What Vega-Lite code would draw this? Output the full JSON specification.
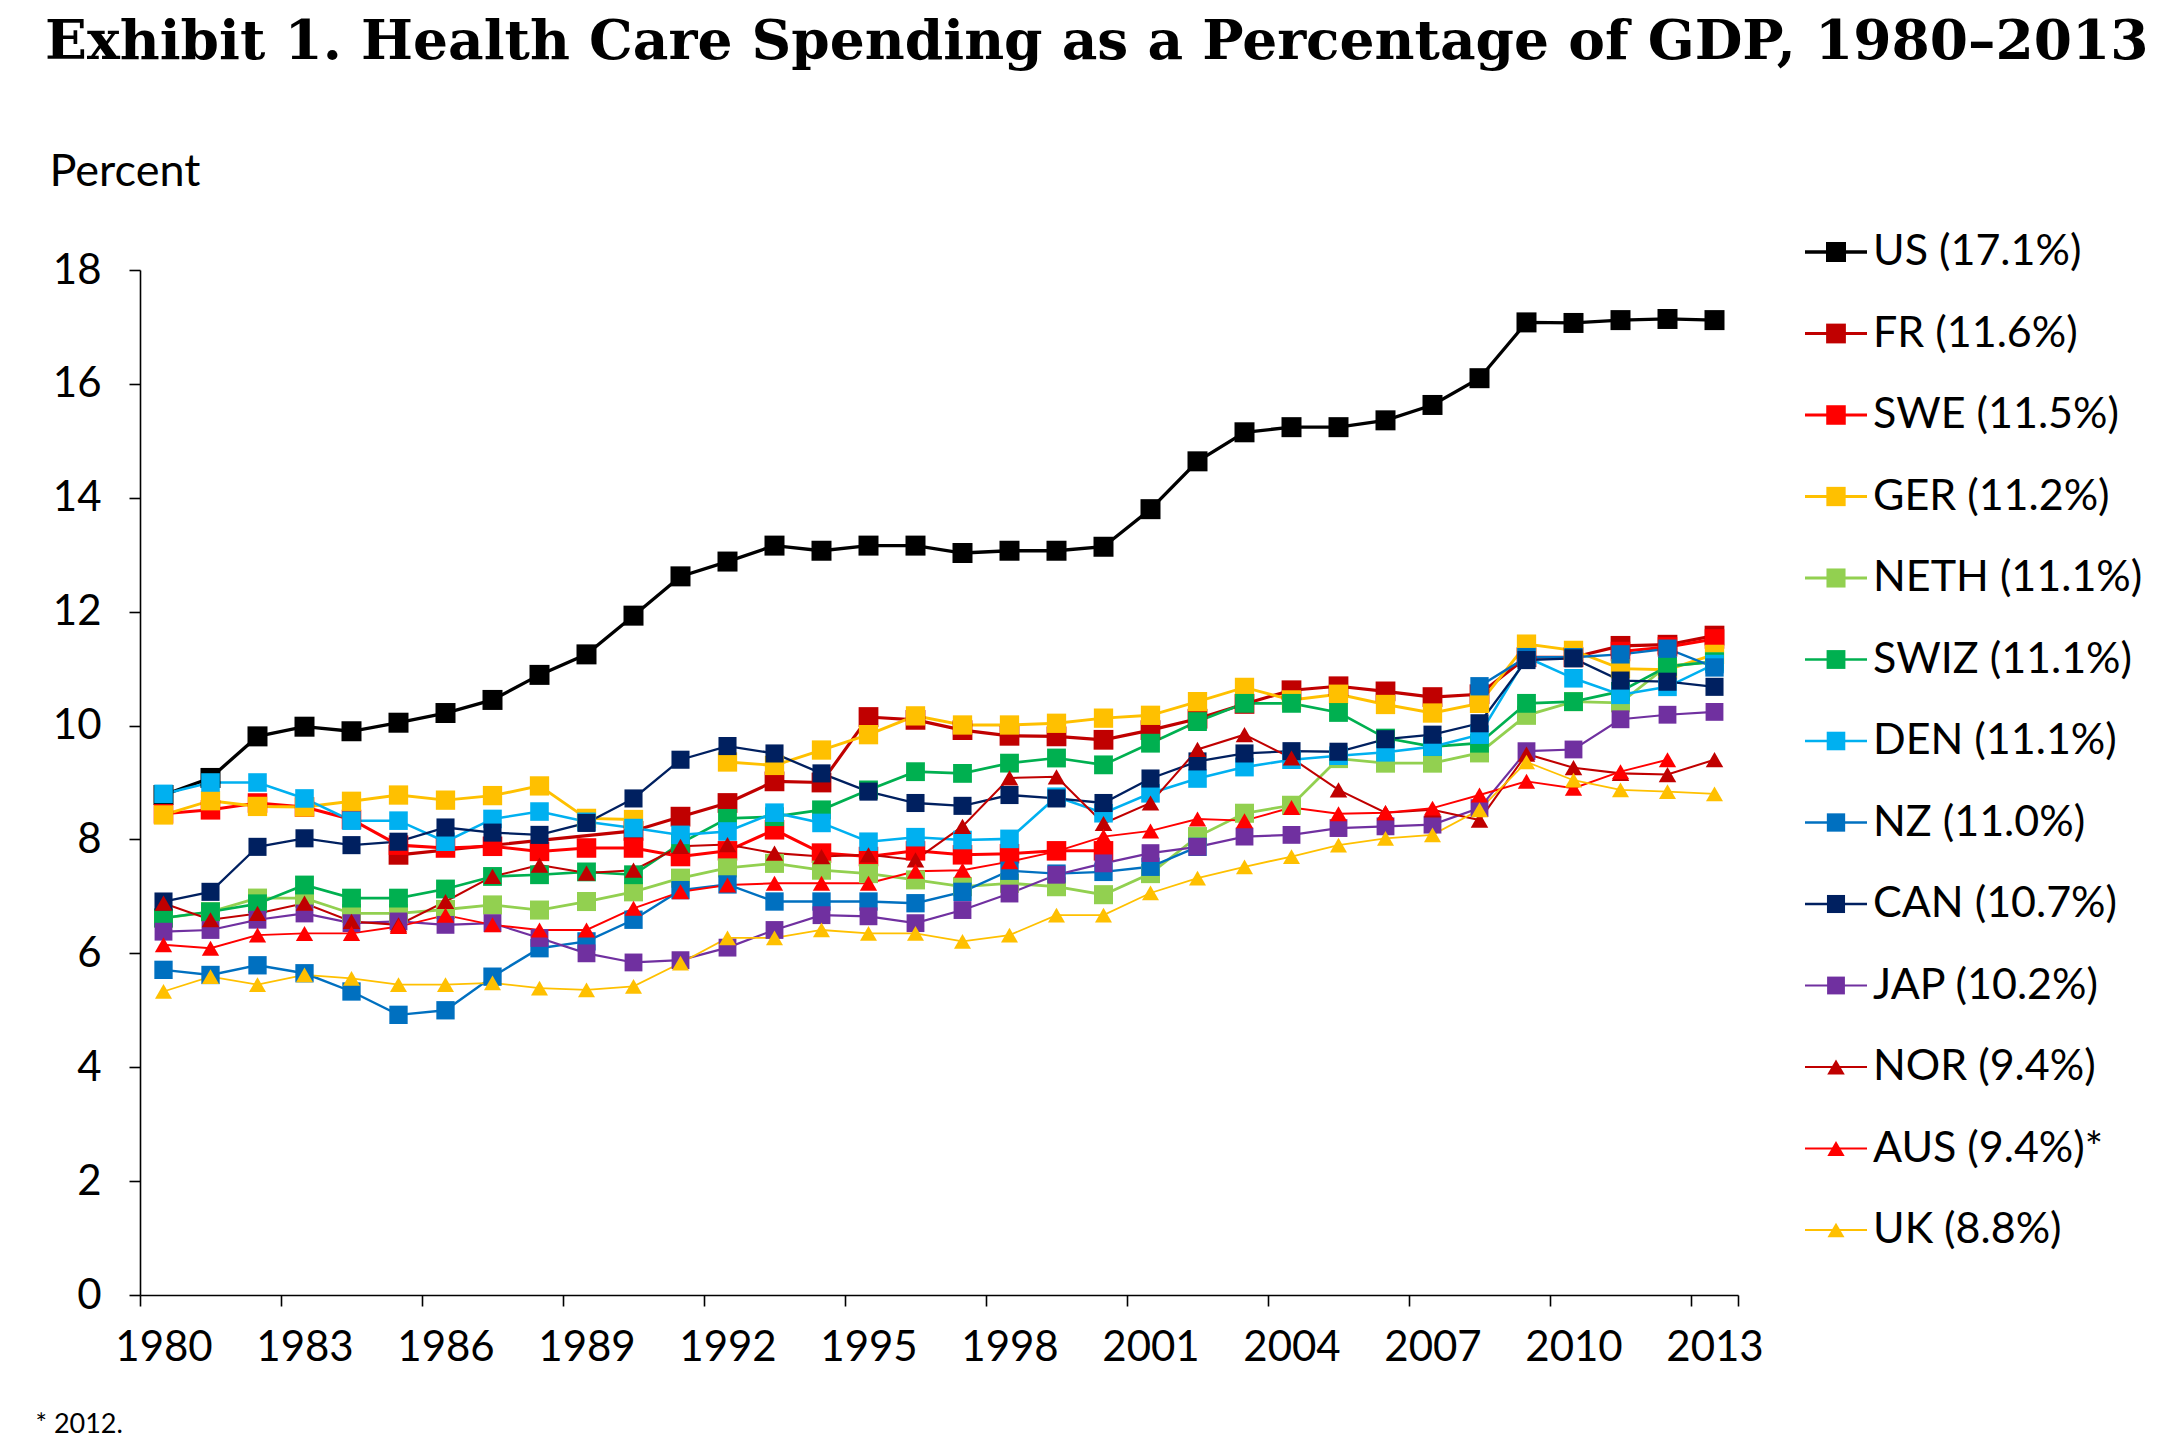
{
  "$schema": "https://vega.github.io/schema/vega-lite/v6.json",
  "description": "Health Care Spending as a Percentage of GDP, 1980-2013",
  "autosize": {"type": "none"},
  "width": 1598,
  "height": 1025,
  "padding": {"left": 140, "top": 270, "right": 444, "bottom": 154},
  "background": "white",
  "title": {
    "text": "Exhibit 1. Health Care Spending as a Percentage of GDP, 1980–2013",
    "font": "DejaVu Serif",
    "fontWeight": "bold",
    "fontSize": 55,
    "color": "#000000",
    "anchor": "start",
    "frame": "group",
    "baseline": "alphabetic",
    "offset": 35,
    "dx": -95
  },
  "config": {
    "view": {"stroke": null},
    "legend": {"disable": true},
    "axis": {
      "labelFont": "Lato",
      "labelFontSize": 42,
      "labelColor": "#000000",
      "titleFont": "Lato",
      "titleColor": "#000000",
      "domainColor": "#000000",
      "domainWidth": 1.6,
      "tickColor": "#000000",
      "tickWidth": 1.6,
      "grid": false
    }
  },
  "data": {
    "values": [
      {"country": "US (17.1%)", "year": 1980, "pct": 8.78},
      {"country": "US (17.1%)", "year": 1981, "pct": 9.08},
      {"country": "US (17.1%)", "year": 1982, "pct": 9.81},
      {"country": "US (17.1%)", "year": 1983, "pct": 9.98},
      {"country": "US (17.1%)", "year": 1984, "pct": 9.9},
      {"country": "US (17.1%)", "year": 1985, "pct": 10.05},
      {"country": "US (17.1%)", "year": 1986, "pct": 10.22},
      {"country": "US (17.1%)", "year": 1987, "pct": 10.45},
      {"country": "US (17.1%)", "year": 1988, "pct": 10.89},
      {"country": "US (17.1%)", "year": 1989, "pct": 11.25},
      {"country": "US (17.1%)", "year": 1990, "pct": 11.93},
      {"country": "US (17.1%)", "year": 1991, "pct": 12.62},
      {"country": "US (17.1%)", "year": 1992, "pct": 12.88},
      {"country": "US (17.1%)", "year": 1993, "pct": 13.16},
      {"country": "US (17.1%)", "year": 1994, "pct": 13.07},
      {"country": "US (17.1%)", "year": 1995, "pct": 13.16},
      {"country": "US (17.1%)", "year": 1996, "pct": 13.16},
      {"country": "US (17.1%)", "year": 1997, "pct": 13.03},
      {"country": "US (17.1%)", "year": 1998, "pct": 13.07},
      {"country": "US (17.1%)", "year": 1999, "pct": 13.07},
      {"country": "US (17.1%)", "year": 2000, "pct": 13.14},
      {"country": "US (17.1%)", "year": 2001, "pct": 13.8},
      {"country": "US (17.1%)", "year": 2002, "pct": 14.64},
      {"country": "US (17.1%)", "year": 2003, "pct": 15.15},
      {"country": "US (17.1%)", "year": 2004, "pct": 15.24},
      {"country": "US (17.1%)", "year": 2005, "pct": 15.24},
      {"country": "US (17.1%)", "year": 2006, "pct": 15.36},
      {"country": "US (17.1%)", "year": 2007, "pct": 15.63},
      {"country": "US (17.1%)", "year": 2008, "pct": 16.1},
      {"country": "US (17.1%)", "year": 2009, "pct": 17.08},
      {"country": "US (17.1%)", "year": 2010, "pct": 17.07},
      {"country": "US (17.1%)", "year": 2011, "pct": 17.12},
      {"country": "US (17.1%)", "year": 2012, "pct": 17.14},
      {"country": "US (17.1%)", "year": 2013, "pct": 17.12},

      {"country": "FR (11.6%)", "year": 1985, "pct": 7.73},
      {"country": "FR (11.6%)", "year": 1990, "pct": 8.15},
      {"country": "FR (11.6%)", "year": 1991, "pct": 8.4},
      {"country": "FR (11.6%)", "year": 1992, "pct": 8.64},
      {"country": "FR (11.6%)", "year": 1993, "pct": 9.02},
      {"country": "FR (11.6%)", "year": 1994, "pct": 9.0},
      {"country": "FR (11.6%)", "year": 1995, "pct": 10.15},
      {"country": "FR (11.6%)", "year": 1996, "pct": 10.1},
      {"country": "FR (11.6%)", "year": 1997, "pct": 9.92},
      {"country": "FR (11.6%)", "year": 1998, "pct": 9.82},
      {"country": "FR (11.6%)", "year": 1999, "pct": 9.81},
      {"country": "FR (11.6%)", "year": 2000, "pct": 9.75},
      {"country": "FR (11.6%)", "year": 2001, "pct": 9.92},
      {"country": "FR (11.6%)", "year": 2002, "pct": 10.12},
      {"country": "FR (11.6%)", "year": 2003, "pct": 10.38},
      {"country": "FR (11.6%)", "year": 2004, "pct": 10.62},
      {"country": "FR (11.6%)", "year": 2005, "pct": 10.69},
      {"country": "FR (11.6%)", "year": 2006, "pct": 10.6},
      {"country": "FR (11.6%)", "year": 2007, "pct": 10.5},
      {"country": "FR (11.6%)", "year": 2008, "pct": 10.55},
      {"country": "FR (11.6%)", "year": 2009, "pct": 11.2},
      {"country": "FR (11.6%)", "year": 2010, "pct": 11.2},
      {"country": "FR (11.6%)", "year": 2011, "pct": 11.4},
      {"country": "FR (11.6%)", "year": 2012, "pct": 11.42},
      {"country": "FR (11.6%)", "year": 2013, "pct": 11.58},

      {"country": "SWE (11.5%)", "year": 1980, "pct": 8.45},
      {"country": "SWE (11.5%)", "year": 1981, "pct": 8.52},
      {"country": "SWE (11.5%)", "year": 1982, "pct": 8.64},
      {"country": "SWE (11.5%)", "year": 1983, "pct": 8.57},
      {"country": "SWE (11.5%)", "year": 1984, "pct": 8.35},
      {"country": "SWE (11.5%)", "year": 1985, "pct": 7.9},
      {"country": "SWE (11.5%)", "year": 1986, "pct": 7.85},
      {"country": "SWE (11.5%)", "year": 1987, "pct": 7.88},
      {"country": "SWE (11.5%)", "year": 1988, "pct": 7.79},
      {"country": "SWE (11.5%)", "year": 1989, "pct": 7.85},
      {"country": "SWE (11.5%)", "year": 1990, "pct": 7.85},
      {"country": "SWE (11.5%)", "year": 1991, "pct": 7.7},
      {"country": "SWE (11.5%)", "year": 1992, "pct": 7.8},
      {"country": "SWE (11.5%)", "year": 1993, "pct": 8.17},
      {"country": "SWE (11.5%)", "year": 1994, "pct": 7.76},
      {"country": "SWE (11.5%)", "year": 1995, "pct": 7.7},
      {"country": "SWE (11.5%)", "year": 1996, "pct": 7.8},
      {"country": "SWE (11.5%)", "year": 1997, "pct": 7.73},
      {"country": "SWE (11.5%)", "year": 1998, "pct": 7.75},
      {"country": "SWE (11.5%)", "year": 1999, "pct": 7.8},
      {"country": "SWE (11.5%)", "year": 2000, "pct": 7.8},
      {"country": "SWE (11.5%)", "year": 2001, "pct": null},
      {"country": "SWE (11.5%)", "year": 2011, "pct": 11.3},
      {"country": "SWE (11.5%)", "year": 2012, "pct": 11.38},
      {"country": "SWE (11.5%)", "year": 2013, "pct": 11.52},

      {"country": "GER (11.2%)", "year": 1980, "pct": 8.43},
      {"country": "GER (11.2%)", "year": 1981, "pct": 8.68},
      {"country": "GER (11.2%)", "year": 1982, "pct": 8.58},
      {"country": "GER (11.2%)", "year": 1983, "pct": 8.57},
      {"country": "GER (11.2%)", "year": 1984, "pct": 8.67},
      {"country": "GER (11.2%)", "year": 1985, "pct": 8.78},
      {"country": "GER (11.2%)", "year": 1986, "pct": 8.69},
      {"country": "GER (11.2%)", "year": 1987, "pct": 8.77},
      {"country": "GER (11.2%)", "year": 1988, "pct": 8.94},
      {"country": "GER (11.2%)", "year": 1989, "pct": 8.37},
      {"country": "GER (11.2%)", "year": 1990, "pct": 8.35},
      {"country": "GER (11.2%)", "year": 1991, "pct": null},
      {"country": "GER (11.2%)", "year": 1992, "pct": 9.36},
      {"country": "GER (11.2%)", "year": 1993, "pct": 9.3},
      {"country": "GER (11.2%)", "year": 1994, "pct": 9.57},
      {"country": "GER (11.2%)", "year": 1995, "pct": 9.84},
      {"country": "GER (11.2%)", "year": 1996, "pct": 10.17},
      {"country": "GER (11.2%)", "year": 1997, "pct": 10.01},
      {"country": "GER (11.2%)", "year": 1998, "pct": 10.01},
      {"country": "GER (11.2%)", "year": 1999, "pct": 10.04},
      {"country": "GER (11.2%)", "year": 2000, "pct": 10.13},
      {"country": "GER (11.2%)", "year": 2001, "pct": 10.18},
      {"country": "GER (11.2%)", "year": 2002, "pct": 10.42},
      {"country": "GER (11.2%)", "year": 2003, "pct": 10.67},
      {"country": "GER (11.2%)", "year": 2004, "pct": 10.45},
      {"country": "GER (11.2%)", "year": 2005, "pct": 10.55},
      {"country": "GER (11.2%)", "year": 2006, "pct": 10.37},
      {"country": "GER (11.2%)", "year": 2007, "pct": 10.22},
      {"country": "GER (11.2%)", "year": 2008, "pct": 10.39},
      {"country": "GER (11.2%)", "year": 2009, "pct": 11.43},
      {"country": "GER (11.2%)", "year": 2010, "pct": 11.32},
      {"country": "GER (11.2%)", "year": 2011, "pct": 11.0},
      {"country": "GER (11.2%)", "year": 2012, "pct": 10.98},
      {"country": "GER (11.2%)", "year": 2013, "pct": 11.25},

      {"country": "NETH (11.1%)", "year": 1980, "pct": 6.62},
      {"country": "NETH (11.1%)", "year": 1981, "pct": 6.73},
      {"country": "NETH (11.1%)", "year": 1982, "pct": 6.97},
      {"country": "NETH (11.1%)", "year": 1983, "pct": 6.97},
      {"country": "NETH (11.1%)", "year": 1984, "pct": 6.7},
      {"country": "NETH (11.1%)", "year": 1985, "pct": 6.7},
      {"country": "NETH (11.1%)", "year": 1986, "pct": 6.77},
      {"country": "NETH (11.1%)", "year": 1987, "pct": 6.85},
      {"country": "NETH (11.1%)", "year": 1988, "pct": 6.76},
      {"country": "NETH (11.1%)", "year": 1989, "pct": 6.91},
      {"country": "NETH (11.1%)", "year": 1990, "pct": 7.08},
      {"country": "NETH (11.1%)", "year": 1991, "pct": 7.32},
      {"country": "NETH (11.1%)", "year": 1992, "pct": 7.5},
      {"country": "NETH (11.1%)", "year": 1993, "pct": 7.58},
      {"country": "NETH (11.1%)", "year": 1994, "pct": 7.46},
      {"country": "NETH (11.1%)", "year": 1995, "pct": 7.4},
      {"country": "NETH (11.1%)", "year": 1996, "pct": 7.29},
      {"country": "NETH (11.1%)", "year": 1997, "pct": 7.17},
      {"country": "NETH (11.1%)", "year": 1998, "pct": 7.23},
      {"country": "NETH (11.1%)", "year": 1999, "pct": 7.17},
      {"country": "NETH (11.1%)", "year": 2000, "pct": 7.03},
      {"country": "NETH (11.1%)", "year": 2001, "pct": 7.4},
      {"country": "NETH (11.1%)", "year": 2002, "pct": 8.05},
      {"country": "NETH (11.1%)", "year": 2003, "pct": 8.46},
      {"country": "NETH (11.1%)", "year": 2004, "pct": 8.6},
      {"country": "NETH (11.1%)", "year": 2005, "pct": 9.42},
      {"country": "NETH (11.1%)", "year": 2006, "pct": 9.34},
      {"country": "NETH (11.1%)", "year": 2007, "pct": 9.34},
      {"country": "NETH (11.1%)", "year": 2008, "pct": 9.52},
      {"country": "NETH (11.1%)", "year": 2009, "pct": 10.18},
      {"country": "NETH (11.1%)", "year": 2010, "pct": 10.42},
      {"country": "NETH (11.1%)", "year": 2011, "pct": 10.4},
      {"country": "NETH (11.1%)", "year": 2012, "pct": 11.05},
      {"country": "NETH (11.1%)", "year": 2013, "pct": 11.12},

      {"country": "SWIZ (11.1%)", "year": 1980, "pct": 6.62},
      {"country": "SWIZ (11.1%)", "year": 1981, "pct": 6.73},
      {"country": "SWIZ (11.1%)", "year": 1982, "pct": 6.87},
      {"country": "SWIZ (11.1%)", "year": 1983, "pct": 7.2},
      {"country": "SWIZ (11.1%)", "year": 1984, "pct": 6.97},
      {"country": "SWIZ (11.1%)", "year": 1985, "pct": 6.97},
      {"country": "SWIZ (11.1%)", "year": 1986, "pct": 7.13},
      {"country": "SWIZ (11.1%)", "year": 1987, "pct": 7.35},
      {"country": "SWIZ (11.1%)", "year": 1988, "pct": 7.38},
      {"country": "SWIZ (11.1%)", "year": 1989, "pct": 7.43},
      {"country": "SWIZ (11.1%)", "year": 1990, "pct": 7.38},
      {"country": "SWIZ (11.1%)", "year": 1991, "pct": 7.93},
      {"country": "SWIZ (11.1%)", "year": 1992, "pct": 8.37},
      {"country": "SWIZ (11.1%)", "year": 1993, "pct": 8.4},
      {"country": "SWIZ (11.1%)", "year": 1994, "pct": 8.52},
      {"country": "SWIZ (11.1%)", "year": 1995, "pct": 8.87},
      {"country": "SWIZ (11.1%)", "year": 1996, "pct": 9.19},
      {"country": "SWIZ (11.1%)", "year": 1997, "pct": 9.16},
      {"country": "SWIZ (11.1%)", "year": 1998, "pct": 9.34},
      {"country": "SWIZ (11.1%)", "year": 1999, "pct": 9.43},
      {"country": "SWIZ (11.1%)", "year": 2000, "pct": 9.31},
      {"country": "SWIZ (11.1%)", "year": 2001, "pct": 9.69},
      {"country": "SWIZ (11.1%)", "year": 2002, "pct": 10.07},
      {"country": "SWIZ (11.1%)", "year": 2003, "pct": 10.39},
      {"country": "SWIZ (11.1%)", "year": 2004, "pct": 10.39},
      {"country": "SWIZ (11.1%)", "year": 2005, "pct": 10.23},
      {"country": "SWIZ (11.1%)", "year": 2006, "pct": 9.78},
      {"country": "SWIZ (11.1%)", "year": 2007, "pct": 9.63},
      {"country": "SWIZ (11.1%)", "year": 2008, "pct": 9.69},
      {"country": "SWIZ (11.1%)", "year": 2009, "pct": 10.39},
      {"country": "SWIZ (11.1%)", "year": 2010, "pct": 10.42},
      {"country": "SWIZ (11.1%)", "year": 2011, "pct": 10.6},
      {"country": "SWIZ (11.1%)", "year": 2012, "pct": 11.04},
      {"country": "SWIZ (11.1%)", "year": 2013, "pct": 11.12},

      {"country": "DEN (11.1%)", "year": 1980, "pct": 8.8},
      {"country": "DEN (11.1%)", "year": 1981, "pct": 9.0},
      {"country": "DEN (11.1%)", "year": 1982, "pct": 9.0},
      {"country": "DEN (11.1%)", "year": 1983, "pct": 8.72},
      {"country": "DEN (11.1%)", "year": 1984, "pct": 8.33},
      {"country": "DEN (11.1%)", "year": 1985, "pct": 8.33},
      {"country": "DEN (11.1%)", "year": 1986, "pct": 7.96},
      {"country": "DEN (11.1%)", "year": 1987, "pct": 8.36},
      {"country": "DEN (11.1%)", "year": 1988, "pct": 8.49},
      {"country": "DEN (11.1%)", "year": 1989, "pct": 8.31},
      {"country": "DEN (11.1%)", "year": 1990, "pct": 8.2},
      {"country": "DEN (11.1%)", "year": 1991, "pct": 8.08},
      {"country": "DEN (11.1%)", "year": 1992, "pct": 8.14},
      {"country": "DEN (11.1%)", "year": 1993, "pct": 8.47},
      {"country": "DEN (11.1%)", "year": 1994, "pct": 8.29},
      {"country": "DEN (11.1%)", "year": 1995, "pct": 7.96},
      {"country": "DEN (11.1%)", "year": 1996, "pct": 8.04},
      {"country": "DEN (11.1%)", "year": 1997, "pct": 7.99},
      {"country": "DEN (11.1%)", "year": 1998, "pct": 8.01},
      {"country": "DEN (11.1%)", "year": 1999, "pct": 8.75},
      {"country": "DEN (11.1%)", "year": 2000, "pct": 8.46},
      {"country": "DEN (11.1%)", "year": 2001, "pct": 8.81},
      {"country": "DEN (11.1%)", "year": 2002, "pct": 9.07},
      {"country": "DEN (11.1%)", "year": 2003, "pct": 9.27},
      {"country": "DEN (11.1%)", "year": 2004, "pct": 9.4},
      {"country": "DEN (11.1%)", "year": 2005, "pct": 9.47},
      {"country": "DEN (11.1%)", "year": 2006, "pct": 9.53},
      {"country": "DEN (11.1%)", "year": 2007, "pct": 9.63},
      {"country": "DEN (11.1%)", "year": 2008, "pct": 9.84},
      {"country": "DEN (11.1%)", "year": 2009, "pct": 11.2},
      {"country": "DEN (11.1%)", "year": 2010, "pct": 10.83},
      {"country": "DEN (11.1%)", "year": 2011, "pct": 10.54},
      {"country": "DEN (11.1%)", "year": 2012, "pct": 10.68},
      {"country": "DEN (11.1%)", "year": 2013, "pct": 11.08},

      {"country": "NZ (11.0%)", "year": 1980, "pct": 5.71},
      {"country": "NZ (11.0%)", "year": 1981, "pct": 5.62},
      {"country": "NZ (11.0%)", "year": 1982, "pct": 5.79},
      {"country": "NZ (11.0%)", "year": 1983, "pct": 5.65},
      {"country": "NZ (11.0%)", "year": 1984, "pct": 5.33},
      {"country": "NZ (11.0%)", "year": 1985, "pct": 4.92},
      {"country": "NZ (11.0%)", "year": 1986, "pct": 5.0},
      {"country": "NZ (11.0%)", "year": 1987, "pct": 5.59},
      {"country": "NZ (11.0%)", "year": 1988, "pct": 6.09},
      {"country": "NZ (11.0%)", "year": 1989, "pct": 6.21},
      {"country": "NZ (11.0%)", "year": 1990, "pct": 6.59},
      {"country": "NZ (11.0%)", "year": 1991, "pct": 7.11},
      {"country": "NZ (11.0%)", "year": 1992, "pct": 7.21},
      {"country": "NZ (11.0%)", "year": 1993, "pct": 6.91},
      {"country": "NZ (11.0%)", "year": 1994, "pct": 6.91},
      {"country": "NZ (11.0%)", "year": 1995, "pct": 6.91},
      {"country": "NZ (11.0%)", "year": 1996, "pct": 6.88},
      {"country": "NZ (11.0%)", "year": 1997, "pct": 7.08},
      {"country": "NZ (11.0%)", "year": 1998, "pct": 7.45},
      {"country": "NZ (11.0%)", "year": 1999, "pct": 7.4},
      {"country": "NZ (11.0%)", "year": 2000, "pct": 7.43},
      {"country": "NZ (11.0%)", "year": 2001, "pct": 7.52},
      {"country": "NZ (11.0%)", "year": 2002, "pct": 7.87},
      {"country": "NZ (11.0%)", "year": 2003, "pct": null},
      {"country": "NZ (11.0%)", "year": 2008, "pct": 10.69},
      {"country": "NZ (11.0%)", "year": 2009, "pct": 11.2},
      {"country": "NZ (11.0%)", "year": 2010, "pct": 11.2},
      {"country": "NZ (11.0%)", "year": 2011, "pct": 11.25},
      {"country": "NZ (11.0%)", "year": 2012, "pct": 11.35},
      {"country": "NZ (11.0%)", "year": 2013, "pct": 11.02},

      {"country": "CAN (10.7%)", "year": 1980, "pct": 6.91},
      {"country": "CAN (10.7%)", "year": 1981, "pct": 7.08},
      {"country": "CAN (10.7%)", "year": 1982, "pct": 7.87},
      {"country": "CAN (10.7%)", "year": 1983, "pct": 8.02},
      {"country": "CAN (10.7%)", "year": 1984, "pct": 7.9},
      {"country": "CAN (10.7%)", "year": 1985, "pct": 7.96},
      {"country": "CAN (10.7%)", "year": 1986, "pct": 8.21},
      {"country": "CAN (10.7%)", "year": 1987, "pct": 8.12},
      {"country": "CAN (10.7%)", "year": 1988, "pct": 8.08},
      {"country": "CAN (10.7%)", "year": 1989, "pct": 8.29},
      {"country": "CAN (10.7%)", "year": 1990, "pct": 8.72},
      {"country": "CAN (10.7%)", "year": 1991, "pct": 9.4},
      {"country": "CAN (10.7%)", "year": 1992, "pct": 9.64},
      {"country": "CAN (10.7%)", "year": 1993, "pct": 9.51},
      {"country": "CAN (10.7%)", "year": 1994, "pct": 9.16},
      {"country": "CAN (10.7%)", "year": 1995, "pct": 8.84},
      {"country": "CAN (10.7%)", "year": 1996, "pct": 8.64},
      {"country": "CAN (10.7%)", "year": 1997, "pct": 8.59},
      {"country": "CAN (10.7%)", "year": 1998, "pct": 8.78},
      {"country": "CAN (10.7%)", "year": 1999, "pct": 8.72},
      {"country": "CAN (10.7%)", "year": 2000, "pct": 8.64},
      {"country": "CAN (10.7%)", "year": 2001, "pct": 9.07},
      {"country": "CAN (10.7%)", "year": 2002, "pct": 9.37},
      {"country": "CAN (10.7%)", "year": 2003, "pct": 9.51},
      {"country": "CAN (10.7%)", "year": 2004, "pct": 9.55},
      {"country": "CAN (10.7%)", "year": 2005, "pct": 9.54},
      {"country": "CAN (10.7%)", "year": 2006, "pct": 9.76},
      {"country": "CAN (10.7%)", "year": 2007, "pct": 9.84},
      {"country": "CAN (10.7%)", "year": 2008, "pct": 10.04},
      {"country": "CAN (10.7%)", "year": 2009, "pct": 11.15},
      {"country": "CAN (10.7%)", "year": 2010, "pct": 11.18},
      {"country": "CAN (10.7%)", "year": 2011, "pct": 10.79},
      {"country": "CAN (10.7%)", "year": 2012, "pct": 10.77},
      {"country": "CAN (10.7%)", "year": 2013, "pct": 10.68},

      {"country": "JAP (10.2%)", "year": 1980, "pct": 6.38},
      {"country": "JAP (10.2%)", "year": 1981, "pct": 6.41},
      {"country": "JAP (10.2%)", "year": 1982, "pct": 6.59},
      {"country": "JAP (10.2%)", "year": 1983, "pct": 6.7},
      {"country": "JAP (10.2%)", "year": 1984, "pct": 6.53},
      {"country": "JAP (10.2%)", "year": 1985, "pct": 6.56},
      {"country": "JAP (10.2%)", "year": 1986, "pct": 6.5},
      {"country": "JAP (10.2%)", "year": 1987, "pct": 6.53},
      {"country": "JAP (10.2%)", "year": 1988, "pct": 6.27},
      {"country": "JAP (10.2%)", "year": 1989, "pct": 6.0},
      {"country": "JAP (10.2%)", "year": 1990, "pct": 5.84},
      {"country": "JAP (10.2%)", "year": 1991, "pct": 5.88},
      {"country": "JAP (10.2%)", "year": 1992, "pct": 6.1},
      {"country": "JAP (10.2%)", "year": 1993, "pct": 6.41},
      {"country": "JAP (10.2%)", "year": 1994, "pct": 6.67},
      {"country": "JAP (10.2%)", "year": 1995, "pct": 6.65},
      {"country": "JAP (10.2%)", "year": 1996, "pct": 6.53},
      {"country": "JAP (10.2%)", "year": 1997, "pct": 6.76},
      {"country": "JAP (10.2%)", "year": 1998, "pct": 7.05},
      {"country": "JAP (10.2%)", "year": 1999, "pct": 7.38},
      {"country": "JAP (10.2%)", "year": 2000, "pct": 7.58},
      {"country": "JAP (10.2%)", "year": 2001, "pct": 7.76},
      {"country": "JAP (10.2%)", "year": 2002, "pct": 7.87},
      {"country": "JAP (10.2%)", "year": 2003, "pct": 8.05},
      {"country": "JAP (10.2%)", "year": 2004, "pct": 8.08},
      {"country": "JAP (10.2%)", "year": 2005, "pct": 8.2},
      {"country": "JAP (10.2%)", "year": 2006, "pct": 8.23},
      {"country": "JAP (10.2%)", "year": 2007, "pct": 8.26},
      {"country": "JAP (10.2%)", "year": 2008, "pct": 8.55},
      {"country": "JAP (10.2%)", "year": 2009, "pct": 9.55},
      {"country": "JAP (10.2%)", "year": 2010, "pct": 9.58},
      {"country": "JAP (10.2%)", "year": 2011, "pct": 10.11},
      {"country": "JAP (10.2%)", "year": 2012, "pct": 10.19},
      {"country": "JAP (10.2%)", "year": 2013, "pct": 10.24},

      {"country": "NOR (9.4%)", "year": 1980, "pct": 6.88},
      {"country": "NOR (9.4%)", "year": 1981, "pct": 6.59},
      {"country": "NOR (9.4%)", "year": 1982, "pct": 6.7},
      {"country": "NOR (9.4%)", "year": 1983, "pct": 6.88},
      {"country": "NOR (9.4%)", "year": 1984, "pct": 6.56},
      {"country": "NOR (9.4%)", "year": 1985, "pct": 6.5},
      {"country": "NOR (9.4%)", "year": 1986, "pct": 6.91},
      {"country": "NOR (9.4%)", "year": 1987, "pct": 7.35},
      {"country": "NOR (9.4%)", "year": 1988, "pct": 7.55},
      {"country": "NOR (9.4%)", "year": 1989, "pct": 7.41},
      {"country": "NOR (9.4%)", "year": 1990, "pct": 7.46},
      {"country": "NOR (9.4%)", "year": 1991, "pct": 7.88},
      {"country": "NOR (9.4%)", "year": 1992, "pct": 7.91},
      {"country": "NOR (9.4%)", "year": 1993, "pct": 7.76},
      {"country": "NOR (9.4%)", "year": 1994, "pct": 7.7},
      {"country": "NOR (9.4%)", "year": 1995, "pct": 7.73},
      {"country": "NOR (9.4%)", "year": 1996, "pct": 7.64},
      {"country": "NOR (9.4%)", "year": 1997, "pct": 8.23},
      {"country": "NOR (9.4%)", "year": 1998, "pct": 9.08},
      {"country": "NOR (9.4%)", "year": 1999, "pct": 9.1},
      {"country": "NOR (9.4%)", "year": 2000, "pct": 8.28},
      {"country": "NOR (9.4%)", "year": 2001, "pct": 8.64},
      {"country": "NOR (9.4%)", "year": 2002, "pct": 9.58},
      {"country": "NOR (9.4%)", "year": 2003, "pct": 9.84},
      {"country": "NOR (9.4%)", "year": 2004, "pct": 9.43},
      {"country": "NOR (9.4%)", "year": 2005, "pct": 8.87},
      {"country": "NOR (9.4%)", "year": 2006, "pct": 8.47},
      {"country": "NOR (9.4%)", "year": 2007, "pct": 8.52},
      {"country": "NOR (9.4%)", "year": 2008, "pct": 8.34},
      {"country": "NOR (9.4%)", "year": 2009, "pct": 9.5},
      {"country": "NOR (9.4%)", "year": 2010, "pct": 9.26},
      {"country": "NOR (9.4%)", "year": 2011, "pct": 9.16},
      {"country": "NOR (9.4%)", "year": 2012, "pct": 9.14},
      {"country": "NOR (9.4%)", "year": 2013, "pct": 9.4},

      {"country": "AUS (9.4%)*", "year": 1980, "pct": 6.15},
      {"country": "AUS (9.4%)*", "year": 1981, "pct": 6.09},
      {"country": "AUS (9.4%)*", "year": 1982, "pct": 6.32},
      {"country": "AUS (9.4%)*", "year": 1983, "pct": 6.35},
      {"country": "AUS (9.4%)*", "year": 1984, "pct": 6.35},
      {"country": "AUS (9.4%)*", "year": 1985, "pct": 6.47},
      {"country": "AUS (9.4%)*", "year": 1986, "pct": 6.67},
      {"country": "AUS (9.4%)*", "year": 1987, "pct": 6.5},
      {"country": "AUS (9.4%)*", "year": 1988, "pct": 6.41},
      {"country": "AUS (9.4%)*", "year": 1989, "pct": 6.41},
      {"country": "AUS (9.4%)*", "year": 1990, "pct": 6.79},
      {"country": "AUS (9.4%)*", "year": 1991, "pct": 7.08},
      {"country": "AUS (9.4%)*", "year": 1992, "pct": 7.2},
      {"country": "AUS (9.4%)*", "year": 1993, "pct": 7.23},
      {"country": "AUS (9.4%)*", "year": 1994, "pct": 7.23},
      {"country": "AUS (9.4%)*", "year": 1995, "pct": 7.23},
      {"country": "AUS (9.4%)*", "year": 1996, "pct": 7.44},
      {"country": "AUS (9.4%)*", "year": 1997, "pct": 7.46},
      {"country": "AUS (9.4%)*", "year": 1998, "pct": 7.61},
      {"country": "AUS (9.4%)*", "year": 1999, "pct": 7.79},
      {"country": "AUS (9.4%)*", "year": 2000, "pct": 8.05},
      {"country": "AUS (9.4%)*", "year": 2001, "pct": 8.15},
      {"country": "AUS (9.4%)*", "year": 2002, "pct": 8.36},
      {"country": "AUS (9.4%)*", "year": 2003, "pct": 8.33},
      {"country": "AUS (9.4%)*", "year": 2004, "pct": 8.56},
      {"country": "AUS (9.4%)*", "year": 2005, "pct": 8.45},
      {"country": "AUS (9.4%)*", "year": 2006, "pct": 8.47},
      {"country": "AUS (9.4%)*", "year": 2007, "pct": 8.55},
      {"country": "AUS (9.4%)*", "year": 2008, "pct": 8.78},
      {"country": "AUS (9.4%)*", "year": 2009, "pct": 9.02},
      {"country": "AUS (9.4%)*", "year": 2010, "pct": 8.9},
      {"country": "AUS (9.4%)*", "year": 2011, "pct": 9.19},
      {"country": "AUS (9.4%)*", "year": 2012, "pct": 9.4},

      {"country": "UK (8.8%)", "year": 1980, "pct": 5.33},
      {"country": "UK (8.8%)", "year": 1981, "pct": 5.59},
      {"country": "UK (8.8%)", "year": 1982, "pct": 5.45},
      {"country": "UK (8.8%)", "year": 1983, "pct": 5.62},
      {"country": "UK (8.8%)", "year": 1984, "pct": 5.56},
      {"country": "UK (8.8%)", "year": 1985, "pct": 5.45},
      {"country": "UK (8.8%)", "year": 1986, "pct": 5.45},
      {"country": "UK (8.8%)", "year": 1987, "pct": 5.48},
      {"country": "UK (8.8%)", "year": 1988, "pct": 5.39},
      {"country": "UK (8.8%)", "year": 1989, "pct": 5.36},
      {"country": "UK (8.8%)", "year": 1990, "pct": 5.42},
      {"country": "UK (8.8%)", "year": 1991, "pct": 5.83},
      {"country": "UK (8.8%)", "year": 1992, "pct": 6.27},
      {"country": "UK (8.8%)", "year": 1993, "pct": 6.27},
      {"country": "UK (8.8%)", "year": 1994, "pct": 6.41},
      {"country": "UK (8.8%)", "year": 1995, "pct": 6.35},
      {"country": "UK (8.8%)", "year": 1996, "pct": 6.35},
      {"country": "UK (8.8%)", "year": 1997, "pct": 6.21},
      {"country": "UK (8.8%)", "year": 1998, "pct": 6.32},
      {"country": "UK (8.8%)", "year": 1999, "pct": 6.67},
      {"country": "UK (8.8%)", "year": 2000, "pct": 6.67},
      {"country": "UK (8.8%)", "year": 2001, "pct": 7.06},
      {"country": "UK (8.8%)", "year": 2002, "pct": 7.32},
      {"country": "UK (8.8%)", "year": 2003, "pct": 7.52},
      {"country": "UK (8.8%)", "year": 2004, "pct": 7.7},
      {"country": "UK (8.8%)", "year": 2005, "pct": 7.9},
      {"country": "UK (8.8%)", "year": 2006, "pct": 8.02},
      {"country": "UK (8.8%)", "year": 2007, "pct": 8.08},
      {"country": "UK (8.8%)", "year": 2008, "pct": 8.52},
      {"country": "UK (8.8%)", "year": 2009, "pct": 9.36},
      {"country": "UK (8.8%)", "year": 2010, "pct": 9.04},
      {"country": "UK (8.8%)", "year": 2011, "pct": 8.87},
      {"country": "UK (8.8%)", "year": 2012, "pct": 8.84},
      {"country": "UK (8.8%)", "year": 2013, "pct": 8.8}
    ]
  },
  "encoding": {
    "color": {
      "field": "country",
      "type": "nominal",
      "scale": {
        "domain": ["US (17.1%)", "FR (11.6%)", "SWE (11.5%)", "GER (11.2%)", "NETH (11.1%)", "SWIZ (11.1%)", "DEN (11.1%)", "NZ (11.0%)", "CAN (10.7%)", "JAP (10.2%)", "NOR (9.4%)", "AUS (9.4%)*", "UK (8.8%)"],
        "range": ["#000000", "#c00000", "#ff0000", "#ffc000", "#92d050", "#00b050", "#00b0f0", "#0070c0", "#002060", "#7030a0", "#c00000", "#ff0000", "#ffc000"]
      }
    }
  },
  "resolve": {"scale": {"x": "independent", "y": "independent"}},
  "layer": [
    {
      "resolve": {"axis": {"x": "independent"}},
      "layer": [
        {
          "mark": {"type": "line", "invalid": "break-paths-filter-domains"},
          "encoding": {
            "x": {
              "field": "year",
              "type": "quantitative",
              "scale": {"domain": [1979.5, 2013.5], "nice": false, "zero": false},
              "axis": {
                "orient": "bottom",
                "values": [1980, 1983, 1986, 1989, 1992, 1995, 1998, 2001, 2004, 2007, 2010, 2013],
                "format": "d",
                "ticks": false,
                "labelPadding": 32,
                "title": "* 2012.",
                "titleFont": "Lato",
                "titleFontSize": 27,
                "titleFontWeight": "normal",
                "titleAlign": "left",
                "titleBaseline": "alphabetic",
                "titleX": -105,
                "titleY": 137
              }
            },
            "y": {
              "field": "pct",
              "type": "quantitative",
              "scale": {"domain": [0, 18], "nice": false},
              "axis": {
                "values": [0, 2, 4, 6, 8, 10, 12, 14, 16, 18],
                "format": "d",
                "tickSize": 11,
                "labelPadding": 28,
                "title": "Percent",
                "titleFontSize": 45,
                "titleFontWeight": "normal",
                "titleAngle": 0,
                "titleAlign": "left",
                "titleBaseline": "alphabetic",
                "titleX": -91,
                "titleY": -85
              }
            },
            "strokeWidth": {
              "field": "country",
              "type": "nominal",
              "scale": {
                "domain": ["US (17.1%)", "FR (11.6%)", "SWE (11.5%)", "GER (11.2%)", "NETH (11.1%)", "SWIZ (11.1%)", "DEN (11.1%)", "NZ (11.0%)", "CAN (10.7%)", "JAP (10.2%)", "NOR (9.4%)", "AUS (9.4%)*", "UK (8.8%)"],
                "range": [3.3, 1.8, 1.8, 1.8, 1.8, 1.8, 1.8, 1.8, 1.8, 1.8, 1.8, 1.8, 1.8]
              }
            }
          }
        },
        {
          "mark": {"type": "point", "filled": true, "opacity": 1, "strokeWidth": 0},
          "encoding": {
            "x": {
              "field": "year",
              "type": "quantitative",
              "axis": {
                "orient": "bottom",
                "values": [1979.5, 1982.5, 1985.5, 1988.5, 1991.5, 1994.5, 1997.5, 2000.5, 2003.5, 2006.5, 2009.5, 2012.5, 2013.5],
                "labels": false,
                "domain": false,
                "tickSize": 11,
                "title": null
              }
            },
            "y": {"field": "pct", "type": "quantitative"},
            "shape": {
              "field": "country",
              "type": "nominal",
              "scale": {
                "domain": ["US (17.1%)", "FR (11.6%)", "SWE (11.5%)", "GER (11.2%)", "NETH (11.1%)", "SWIZ (11.1%)", "DEN (11.1%)", "NZ (11.0%)", "CAN (10.7%)", "JAP (10.2%)", "NOR (9.4%)", "AUS (9.4%)*", "UK (8.8%)"],
                "range": ["square", "square", "square", "square", "square", "square", "square", "square", "square", "square", "triangle-up", "triangle-up", "triangle-up"]
              }
            },
            "size": {
              "field": "country",
              "type": "nominal",
              "scale": {
                "domain": ["US (17.1%)", "FR (11.6%)", "SWE (11.5%)", "GER (11.2%)", "NETH (11.1%)", "SWIZ (11.1%)", "DEN (11.1%)", "NZ (11.0%)", "CAN (10.7%)", "JAP (10.2%)", "NOR (9.4%)", "AUS (9.4%)*", "UK (8.8%)"],
                "range": [400, 290, 150, 300, 290, 290, 300, 290, 290, 130, 330, 330, 330]
              }
            }
          }
        }
      ]
    },
    {
      "transform": [
        {"aggregate": [{"op": "count", "as": "n"}], "groupby": ["country"]}
      ],
      "encoding": {
        "y": {
          "field": "country",
          "type": "nominal",
          "scale": {
            "type": "point",
            "domain": ["US (17.1%)", "FR (11.6%)", "SWE (11.5%)", "GER (11.2%)", "NETH (11.1%)", "SWIZ (11.1%)", "DEN (11.1%)", "NZ (11.0%)", "CAN (10.7%)", "JAP (10.2%)", "NOR (9.4%)", "AUS (9.4%)*", "UK (8.8%)"],
            "range": [-18, 960],
            "padding": 0
          },
          "axis": null
        }
      },
      "layer": [
        {
          "mark": {"type": "rule"},
          "encoding": {
            "x": {"datum": 0, "type": "quantitative", "scale": {"domain": [0, 1], "range": [1665, 1727]}, "axis": null},
            "x2": {"datum": 1},
            "strokeWidth": {"field": "country", "type": "nominal"}
          }
        },
        {
          "mark": {"type": "point", "filled": true, "opacity": 1, "strokeWidth": 0},
          "encoding": {
            "x": {"datum": 0.5, "type": "quantitative"},
            "shape": {"field": "country", "type": "nominal"},
            "size": {"field": "country", "type": "nominal"}
          }
        },
        {
          "mark": {"type": "text", "align": "left", "baseline": "middle", "dx": 6, "font": "Lato", "fontSize": 43, "color": "#000000"},
          "encoding": {
            "x": {"datum": 1, "type": "quantitative"},
            "text": {"field": "country", "type": "nominal"},
            "color": {"value": "#000000"}
          }
        }
      ]
    }
  ]
}
